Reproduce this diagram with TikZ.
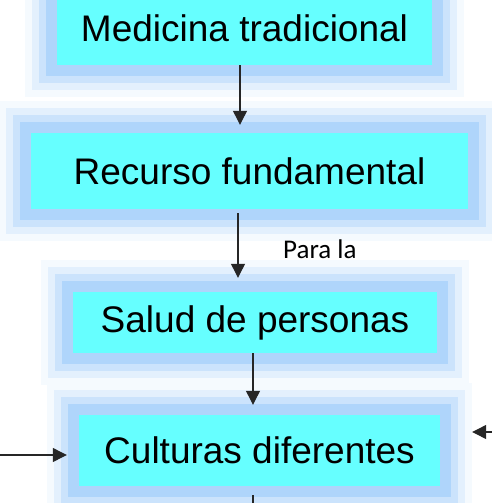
\documentclass[tikz,border=0pt]{standalone}
\usepackage{fontspec}
\setmainfont{Liberation Sans}
\newfontfamily\calfont{Carlito}
\usepackage{xcolor}
\usepackage{tikz}
\usetikzlibrary{arrows.meta,backgrounds,calc}

\definecolor{cyanfill}{HTML}{66FFFF}
\definecolor{glowa}{HTML}{F5FAFE}
\definecolor{glowb}{HTML}{E3F0FD}
\definecolor{glowc}{HTML}{CBE3FC}
\definecolor{glowd}{HTML}{AFD5FB}

\tikzset{
  box/.style={fill=cyanfill, inner sep=0pt, font=\fontsize{37}{44}\selectfont},
  arr/.style={-{Triangle[length=14pt,width=14pt]}, line width=1.2pt, black!85},
  lbl/.style={font=\calfont\fontsize{27}{32}\selectfont, inner sep=0pt, anchor=base west}
}

% soft blue halo round a box
\newcommand{\halo}[1]{
  \foreach \d/\c in {32/glowa,25/glowb,18/glowc,11/glowd}
    \fill[\c] ([shift={(-\d pt,-\d pt)}]#1.south west) rectangle ([shift={(\d pt,\d pt)}]#1.north east);
}

\begin{document}
\begin{tikzpicture}[x=1pt, y=-1pt]
    \useasboundingbox (0,0) rectangle (492,503);

    \node [box, minimum width=375pt, minimum height=73pt] (med) at (244.5, 28.5) {Medicina tradicional};
    \node [box, minimum width=437pt, minimum height=76pt] (rec) at (249.5, 171) {Recurso fundamental};
    \node [box, minimum width=364pt, minimum height=61pt] (sal) at (255, 322.5) {Salud de personas};
    \node [box, minimum width=361pt, minimum height=71pt] (cul) at (259.5, 450.5) {Culturas diferentes};

    \begin{pgfonlayer}{background}
        \halo{med} \halo{rec} \halo{sal} \halo{cul}
    \end{pgfonlayer}

    % chain down the middle
    \draw [arr] ([xshift=-4.5pt]med.south) -- ([xshift=-9.5pt, yshift=8pt]rec.north);
    \draw [arr] ([xshift=-11.5pt, yshift=-4pt]rec.south) -- ([xshift=-17pt, yshift=14pt]sal.north);
    \node [lbl] (para) at (283, 258) {Para la};
    \draw [arr] ([xshift=-2pt]sal.south) -- ([xshift=-6.5pt, yshift=10pt]cul.north);

    % side inputs and the way out below
    \coordinate (inl) at (0, 455);
    \coordinate (inr) at (492, 432);
    \coordinate (out) at (253, 503);
    \draw [arr] (inl) -- ([xshift=-12pt]cul.west |- inl);
    \draw [arr] (inr) -- ([xshift=32pt]cul.east |- inr);
    \draw [line width=1.2pt, black!85] ([xshift=-6.5pt, yshift=-9pt]cul.south) -- (out);
\end{tikzpicture}
\end{document}
